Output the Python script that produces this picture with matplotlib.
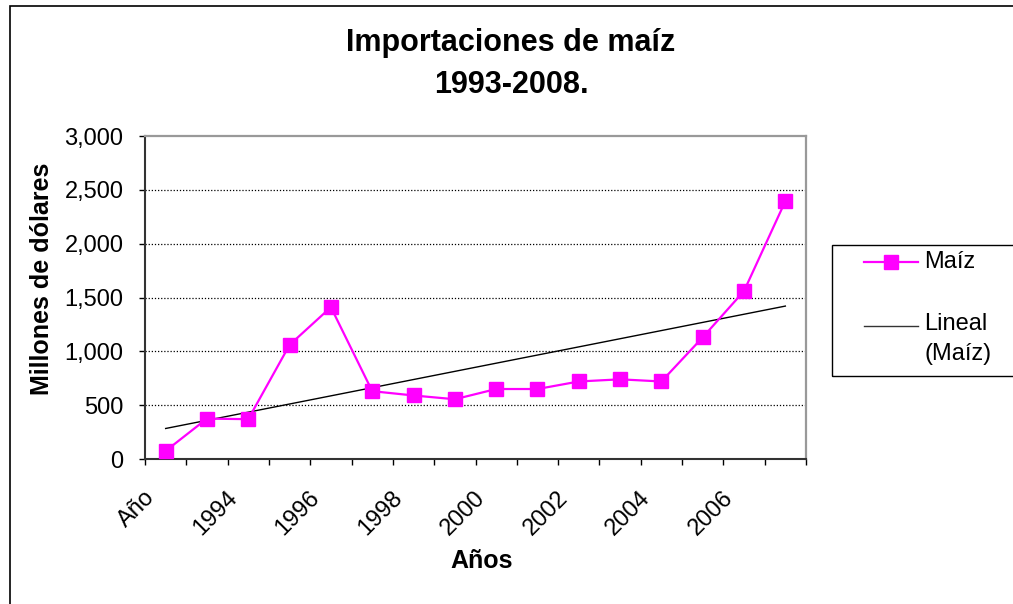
import matplotlib.pyplot as plt
import matplotlib.ticker as mticker
import matplotlib.transforms as mtransforms
from matplotlib.patches import Rectangle
from matplotlib.lines import Line2D
import numpy as np

plt.rcParams['font.family'] = ['Liberation Sans', 'DejaVu Sans']

# datos
categorias = ['Año'] + [str(a) for a in range(1993, 2008)]
maiz = [75, 375, 370, 1060, 1410, 630, 590, 555, 650, 650, 720, 740, 720, 1130, 1560, 2395]
yticks = [0, 500, 1000, 1500, 2000, 2500, 3000]

x = np.arange(len(maiz))
coef = np.polyfit(x, maiz, 1)
tendencia = np.polyval(coef, x)

W, H = 1013, 604
fig = plt.figure(figsize=(W / 100, H / 100), dpi=100)


def fx(px):
    return px / W


def fy(py):
    return 1 - py / H


# borde del area del grafico
fig.patches.append(Rectangle((fx(10), -0.01), 1.02, fy(6) + 0.01,
                             transform=fig.transFigure, fill=False,
                             edgecolor='black', linewidth=1.2))

ax = fig.add_axes([fx(145), fy(459), (806 - 145) / W, (459 - 136) / H])

ax.plot(x, maiz, color='#FF00FF', marker='s', markersize=9.5, linewidth=1.6, zorder=3)
ax.plot(x, tendencia, color='black', linewidth=1.0, zorder=2)

ax.set_xlim(-0.5, len(maiz) - 0.5)
ax.set_ylim(0, 3000)
ax.set_yticks(yticks)
ax.yaxis.set_major_formatter(mticker.FuncFormatter(lambda v, p: f'{int(v):,}'))
ax.tick_params(axis='y', labelsize=17, length=4.5, width=1, direction='out', pad=11)

for v in yticks[1:-1]:
    ax.axhline(v, color='black', linestyle=(0, (1, 1.5)), linewidth=0.9, zorder=1)

ax.set_xticks(x[::2])
ax.set_xticklabels(categorias[::2], rotation=45, ha='right', va='top',
                   rotation_mode='anchor', fontsize=17)
ax.set_xticks(np.arange(-0.5, len(maiz)), minor=True)
ax.tick_params(axis='x', which='major', length=0, pad=20)
ax.tick_params(axis='x', which='minor', length=4.5, width=1, direction='out')
desplaza = mtransforms.ScaledTranslation(-22 / 100, 0, fig.dpi_scale_trans)
for lab in ax.get_xticklabels():
    lab.set_transform(lab.get_transform() + desplaza)

for s in ['top', 'right']:
    ax.spines[s].set_color('#999999')
    ax.spines[s].set_linewidth(1.6)
for s in ['left', 'bottom']:
    ax.spines[s].set_color('#333333')
    ax.spines[s].set_linewidth(1.5)

ax.set_ylabel('Millones de dólares', fontsize=18, fontweight='bold')
ax.yaxis.set_label_coords(-(145 - 54) / (806 - 145), (459 - 279) / (459 - 136))
ax.set_xlabel('Años', fontsize=18, fontweight='bold')
ax.xaxis.set_label_coords((482 - 145) / (806 - 145), -(549 - 459) / (459 - 136))

fig.text(fx(511), fy(64), 'Importaciones de maíz\n1993-2008.', ha='center', va='center',
         fontsize=22, fontweight='bold', linespacing=1.5)

# leyenda
fig.patches.append(Rectangle((fx(832), fy(376)), 0.3, (376 - 245) / H,
                             transform=fig.transFigure, fill=False,
                             edgecolor='black', linewidth=1.0))
fig.add_artist(Line2D([fx(864), fx(918)], [fy(262), fy(262)], color='#FF00FF', linewidth=1.6,
                      transform=fig.transFigure))
fig.add_artist(Line2D([fx(891)], [fy(262)], color='#FF00FF', marker='s', markersize=9.5,
                      transform=fig.transFigure))
fig.text(fx(924), fy(262), 'Maíz', ha='left', va='center', fontsize=17)
fig.add_artist(Line2D([fx(864), fx(918)], [fy(326), fy(326)], color='#333333', linewidth=1.0,
                      transform=fig.transFigure))
fig.text(fx(924), fy(339), 'Lineal\n(Maíz)', ha='left', va='center', fontsize=17,
         linespacing=1.5)

fig.savefig('out.png', dpi=100)
